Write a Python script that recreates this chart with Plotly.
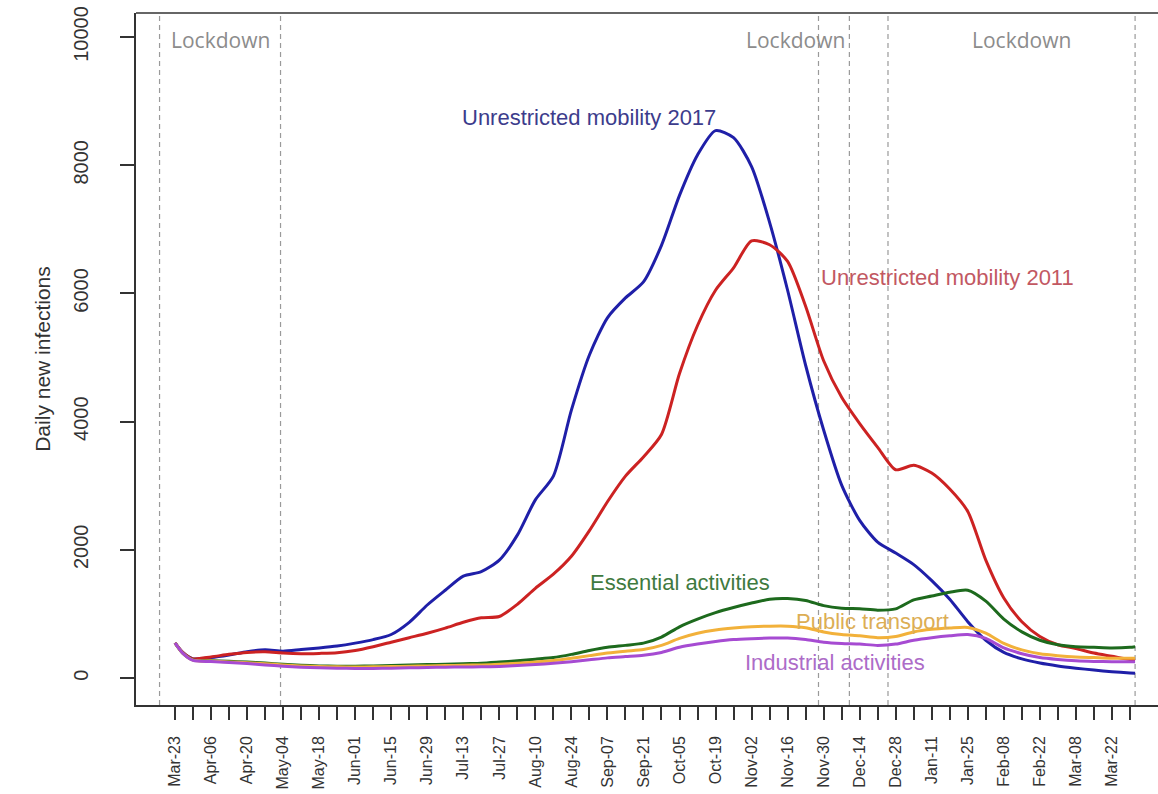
import pandas as pd
import plotly.graph_objects as go

# Days since 23 March 2020 at which each series is sampled
days = [0, 3] + [7 * k for k in range(1, 54)] + [373]

unrestricted_2017 = [550, 400,
    300, 320, 360, 410, 440, 420, 445, 470, 500, 545,
    600, 680, 870, 1140, 1370, 1590, 1660, 1840, 2230, 2780,
    3150, 4180, 5040, 5620, 5930, 6180, 6750, 7530, 8160, 8540,
    8430, 7980, 7110, 6050, 4880, 3870, 3010, 2460, 2120, 1950,
    1770, 1520, 1230, 880, 590, 400, 300, 235, 190, 155,
    125, 100, 80, 75]

unrestricted_2011 = [550, 400,
    300, 330, 370, 400, 410, 390, 380, 385, 395, 430,
    490, 560, 630, 700, 780, 870, 940, 960, 1150, 1400,
    1620, 1900, 2300, 2750, 3150, 3450, 3800, 4750, 5500, 6050,
    6400, 6820, 6760, 6500, 5800, 4950, 4380, 3970, 3600, 3250,
    3320, 3200, 2950, 2600, 1840, 1250, 880, 650, 520, 460,
    390, 340, 290, 280]

essential = [550, 390,
    285, 270, 262, 250, 235, 215, 200, 190, 185, 185,
    190, 195, 205, 210, 215, 225, 232, 250, 270, 295,
    320, 370, 430, 480, 510, 545, 640, 800, 920, 1020,
    1100, 1170, 1230, 1240, 1210, 1130, 1090, 1080, 1060, 1080,
    1220, 1280, 1340, 1370, 1200, 920, 720, 590, 520, 490,
    480, 470, 480, 490]

public_transport = [550, 390,
    280, 265, 252, 240, 225, 205, 190, 180, 175, 172,
    175, 180, 185, 190, 195, 200, 205, 215, 230, 250,
    275, 310, 350, 390, 420, 445, 510, 620, 700, 750,
    780, 800, 810, 810, 785, 720, 680, 660, 630, 650,
    720, 760, 780, 790, 700, 540, 440, 380, 350, 330,
    320, 310, 310, 310]

industrial = [550, 390,
    275, 258, 242, 226, 205, 185, 170, 160, 155, 150,
    150, 155, 160, 165, 170, 172, 175, 182, 195, 210,
    230, 255, 285, 315, 335, 355, 400, 480, 530, 570,
    600, 615, 625, 625, 600, 560, 540, 530, 510, 530,
    590, 630, 660, 680, 620, 470, 380, 320, 290, 270,
    260, 255, 255, 255]

tick_labels = ["Mar-23", "Apr-06", "Apr-20", "May-04", "May-18", "Jun-01",
               "Jun-15", "Jun-29", "Jul-13", "Jul-27", "Aug-10", "Aug-24",
               "Sep-07", "Sep-21", "Oct-05", "Oct-19", "Nov-02", "Nov-16",
               "Nov-30", "Dec-14", "Dec-28", "Jan-11", "Jan-25", "Feb-08",
               "Feb-22", "Mar-08", "Mar-22"]

y_ticks = [0, 2000, 4000, 6000, 8000, 10000]

lockdown_marks = ["2020-03-17", "2020-05-03", "2020-11-28", "2020-12-10",
                  "2020-12-25", "2021-03-31"]

start = pd.Timestamp("2020-03-23")
dates = [start + pd.Timedelta(days=d) for d in days]


def day(d):
    return start + pd.Timedelta(days=d)


# weekly ticks, labelled every second week
tick_vals = [day(7 * k) for k in range(54)]
tick_text = []
for k in range(54):
    tick_text.append(tick_labels[k // 2] if k % 2 == 0 and k // 2 < len(tick_labels) else "")

series = [
    ("Unrestricted mobility 2017", unrestricted_2017, "#1f1fa8"),
    ("Unrestricted mobility 2011", unrestricted_2011, "#cc2222"),
    ("Essential activities", essential, "#1d6a1d"),
    ("Public transport", public_transport, "#f2b13a"),
    ("Industrial activities", industrial, "#a64bd2"),
]

fig = go.Figure()
for name, vals, col in series:
    fig.add_trace(go.Scatter(
        x=dates, y=vals, mode="lines", name=name,
        line=dict(color=col, width=3, shape="spline", smoothing=0.7),
        showlegend=False,
    ))

shapes = []
for d in lockdown_marks:
    shapes.append(dict(type="line", xref="x", yref="paper", x0=d, x1=d, y0=0, y1=1,
                       line=dict(color="#9a9a9a", width=1.2, dash="5px,4px"), layer="below"))
# top edge of the frame
shapes.append(dict(type="line", xref="paper", yref="paper", x0=0, x1=1, y0=1, y1=1,
                   line=dict(color="#333333", width=1.5)))

annotations = []
for d, txt in [(17.5, "Lockdown"), (240.9, "Lockdown"), (329, "Lockdown")]:
    annotations.append(dict(x=day(d), y=9950, xref="x", yref="y", text=txt, showarrow=False,
                            font=dict(family="Open Sans", size=21, color="#8c8c8c")))

series_labels = [
    (160.8, 8750, "Unrestricted mobility 2017", "#3c3c8c"),
    (300.0, 6256, "Unrestricted mobility 2011", "#c25862"),
    (196.2, 1498, "Essential activities", "#3f7a3f"),
    (270.8, 889, "Public transport", "#dcae55"),
    (256.4, 250, "Industrial activities", "#ad6cc8"),
]
for d, v, txt, col in series_labels:
    annotations.append(dict(x=day(d), y=v, xref="x", yref="y", text=txt, showarrow=False,
                            font=dict(family="Liberation Sans", size=22, color=col)))

fig.update_layout(
    width=1158, height=794,
    margin=dict(l=136, r=0, t=13, b=89),
    paper_bgcolor="white", plot_bgcolor="white",
    font=dict(family="Liberation Sans", color="#222222"),
    shapes=shapes, annotations=annotations,
    xaxis=dict(
        range=[day(-15.15), day(381.9)],
        tickmode="array", tickvals=tick_vals, ticktext=tick_text,
        tickangle=-90, ticks="outside", ticklen=13, tickwidth=1.5, tickcolor="#333333",
        tickfont=dict(size=16, color="#333333"), ticklabelstandoff=10,
        showline=True, linecolor="#333333", linewidth=1.5,
        showgrid=False, zeroline=False,
    ),
    yaxis=dict(
        range=[-420, 10375],
        tickmode="array", tickvals=y_ticks, ticktext=[str(v) for v in y_ticks],
        tickangle=-90, ticks="outside", ticklen=14, tickwidth=1.5, tickcolor="#333333",
        tickfont=dict(size=20, color="#333333"), ticklabelstandoff=24,
        showline=True, linecolor="#333333", linewidth=1.5,
        showgrid=False, zeroline=False,
        title=dict(text="Daily new infections", font=dict(size=21, color="#333333"), standoff=14),
    ),
)

fig.write_html("out.html")
